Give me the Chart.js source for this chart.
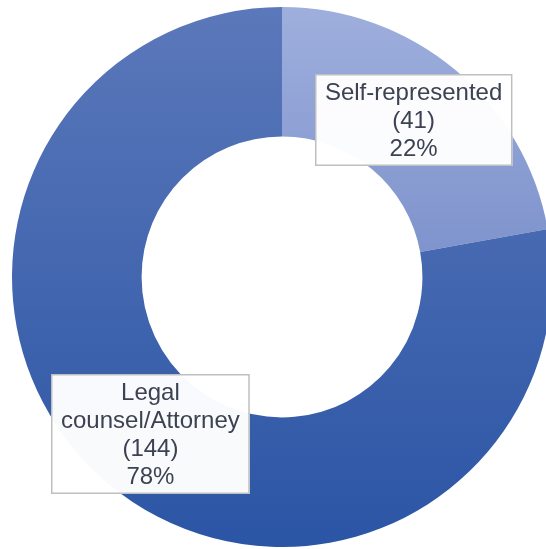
<!DOCTYPE html>
<html>
<head>
<meta charset="utf-8">
<script src="https://cdn.jsdelivr.net/npm/chart.js@4/dist/chart.umd.min.js"></script>
<style>
    html, body { margin: 0; padding: 0; background: #fff; overflow: hidden; width: 546px; height: 549px; }
    #wrap { position: absolute; left: 12px; top: 7px; }
</style>
</head>
<body>
<div id="wrap"><canvas id="graphic__share" width="540" height="540"></canvas></div>
<script>
const categories = ['Self-represented', 'Legal counsel/Attorney'];
const categoryLines = [['Self-represented'], ['Legal', 'counsel/Attorney']];
const counts = [41, 144];

// top / bottom colour of each slice's vertical gradient
const gradTop = ['#9eafdd', '#5b78ba'];
const gradBottom = ['#7e92cc', '#2b55a5'];
const gradSpan = [0.47, 1];

const sliceFill = (ctx) => {
    const area = ctx.chart.chartArea;
    if (!area) return gradBottom[ctx.dataIndex];
    const i = ctx.dataIndex;
    const g = ctx.chart.ctx.createLinearGradient(0, area.top, 0, area.top + (area.bottom - area.top) * gradSpan[i]);
    g.addColorStop(0, gradTop[i]);
    g.addColorStop(1, gradBottom[i]);
    return g;
};

const boxLabels = {
    id: 'boxLabels',
    afterDatasetsDraw(chart) {
        const ctx = chart.ctx;
        const meta = chart.getDatasetMeta(0);
        const total = counts.reduce((a, b) => a + b, 0);
        const lineH = 28;
        ctx.save();
        ctx.font = '24px "Liberation Sans", Arial, sans-serif';
        ctx.textAlign = 'center';
        ctx.textBaseline = 'middle';
        meta.data.forEach((arc, i) => {
            const lines = categoryLines[i].concat(['(' + counts[i] + ')', Math.round(counts[i] / total * 100) + '%']);
            const p = arc.getCenterPoint();
            let w = 0;
            lines.forEach((l) => { w = Math.max(w, ctx.measureText(l).width); });
            const bw = w + 20;
            const bh = lines.length * lineH + 8;
            const x0 = Math.round(p.x - bw / 2);
            const y0 = Math.round(p.y - bh / 2);
            ctx.fillStyle = 'rgba(255,255,255,0.97)';
            ctx.fillRect(x0, y0, bw, bh);
            ctx.strokeStyle = '#bfbfbf';
            ctx.lineWidth = 1.5;
            ctx.strokeRect(x0 + 0.75, y0 + 0.75, bw - 1.5, bh - 1.5);
            ctx.fillStyle = '#3c4252';
            lines.forEach((l, k) => {
                ctx.fillText(l, p.x, y0 + 4 + lineH * k + lineH / 2 + 1);
            });
        });
        ctx.restore();
    }
};

const ctx = document.querySelector('#graphic__share').getContext('2d');
const config = {
    type: 'doughnut',
    data: {
        labels: categories,
        datasets: [
            {
                data: counts,
                backgroundColor: sliceFill,
                borderWidth: 0,
                hoverOffset: 0,
            }
        ]
    },
    options: {
        responsive: false,
        animation: false,
        cutout: '52%',
        layout: { padding: 0 },
        plugins: {
            legend: { display: false },
            tooltip: { enabled: false },
        }
    },
    plugins: [boxLabels]
};
const chart = new Chart(ctx, config);
</script>
</body>
</html>
